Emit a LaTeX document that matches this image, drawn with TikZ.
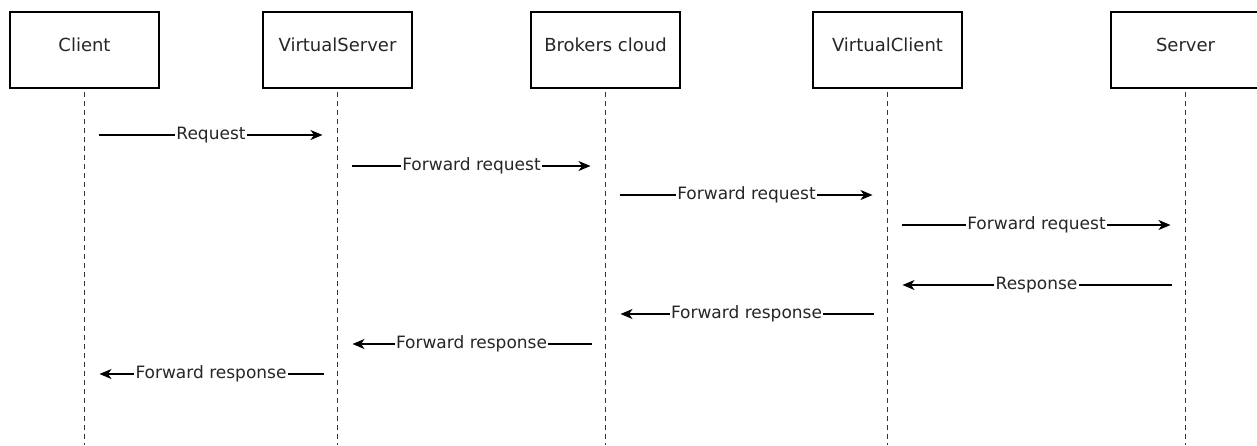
\documentclass[tikz,border=0pt]{standalone}
\usepackage{fontspec}
\setmainfont{DejaVu Sans}
\usetikzlibrary{arrows.meta}
\tikzset{
  actor/.style={draw, line width=1.6pt, minimum width=149pt, minimum height=76pt,
    inner sep=0pt, font=\fontsize{18}{20}\selectfont, text=black!85,
    text height=13pt, text depth=11pt},
  lifeline/.style={line width=1.4pt, dash pattern=on 5pt off 4pt, black!80},
  msg/.style={line width=1.4pt, -{Stealth[length=12pt,width=10pt,inset=3.5pt]},
    shorten <=14pt, shorten >=15pt},
  msglabel/.style={fill=white, inner sep=1.2pt, font=\fontsize{17}{19}\selectfont,
    text=black!85}
}
\begin{document}
\begin{tikzpicture}[x=1pt, y=-1pt]
  \useasboundingbox (0,0) rectangle (1257,445);

  % participants
  \node[actor] (client)  at (84.5,50)   {Client};
  \node[actor] (vserver) at (337.5,50)  {VirtualServer};
  \node[actor] (broker)  at (605.5,50)  {Brokers cloud};
  \node[actor] (vclient) at (887.5,50)  {VirtualClient};
  \node[actor] (server)  at (1185.5,50) {Server};

  % lifelines
  \foreach \p in {client,vserver,broker,vclient,server}{
    \coordinate (\p-top) at ([yshift=-3pt]\p.south);
    \coordinate (\p-bot) at (\p.south |- 0,445);
    \draw[lifeline] (\p-top) -- (\p-bot);
  }

  % message anchor points on the lifelines
  \foreach \p in {client,vserver,broker,vclient,server}{
    \foreach \i/\y in {1/135,2/166,3/195,4/225,5/285,6/314,7/344,8/374}{
      \coordinate (\p-\i) at (\p.south |- 0,\y);
    }
  }

  % requests
  \draw[msg] (client-1) -- node[msglabel]{Request} (vserver-1);
  \draw[msg] (vserver-2) -- node[msglabel]{Forward request} (broker-2);
  \draw[msg] (broker-3) -- node[msglabel]{Forward request} (vclient-3);
  \draw[msg] (vclient-4) -- node[msglabel]{Forward request} (server-4);

  % responses
  \draw[msg] (server-5) -- node[msglabel]{Response} (vclient-5);
  \draw[msg] (vclient-6) -- node[msglabel]{Forward response} (broker-6);
  \draw[msg] (broker-7) -- node[msglabel]{Forward response} (vserver-7);
  \draw[msg] (vserver-8) -- node[msglabel]{Forward response} (client-8);
\end{tikzpicture}
\end{document}
